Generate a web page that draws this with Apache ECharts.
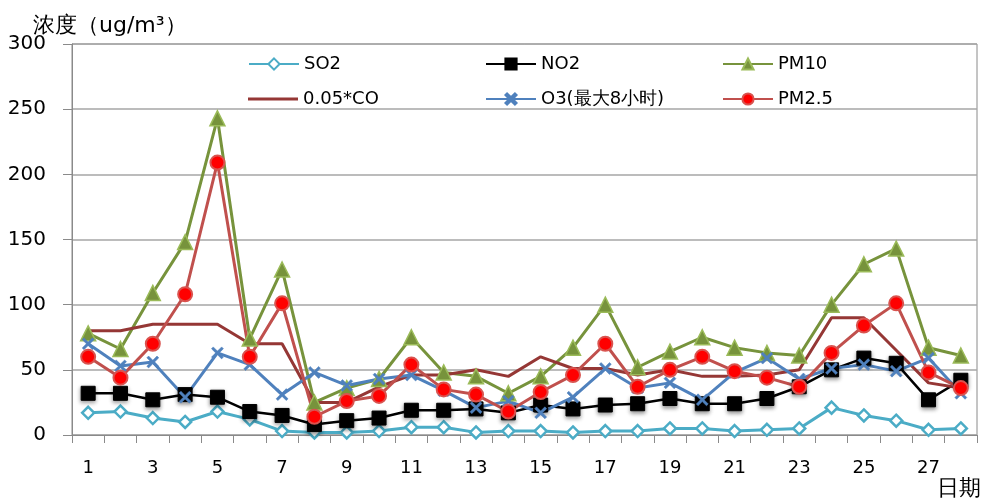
<!DOCTYPE html>
<html>
<head>
<meta charset="utf-8">
<script src="https://cdn.jsdelivr.net/npm/echarts@6/dist/echarts.min.js"></script>
<style>
html,body{margin:0;padding:0;background:#fff;}
#c{width:984px;height:502px;}
</style>
</head>
<body>
<div id="c"></div>
<script>
var days = ['1','2','3','4','5','6','7','8','9','10','11','12','13','14','15','16','17','18','19','20','21','22','23','24','25','26','27','28'];
var so2  = [17,18,13,10,18,12,3,2,2,3,6,6,2,3,3,2,3,3,5,5,3,4,5,21,15,11,4,5];
var no2  = [32,32,27,31,29,18,15,8,11,13,19,19,20,17,23,20,23,24,28,24,24,28,37,50,59,55,27,42];
var pm10 = [78,66,109,148,243,74,127,25,36,43,75,48,45,32,45,67,100,52,64,75,67,63,61,100,131,143,67,61];
var co   = [80,80,85,85,85,70,70,25,25,37,46,46,50,45,60,51,51,46,50,45,45,46,50,90,90,65,40,36];
var o3   = [70,53,56,29,63,54,31,48,38,43,46,34,21,26,17,29,51,36,40,27,48,59,43,51,54,49,59,32];
var pm25 = [60,44,70,108,209,60,101,14,26,30,54,35,31,18,33,46,70,37,50,60,49,44,37,63,84,101,48,36];
var seriesNames = ['SO2','NO2','PM10','0.05*CO','O3(最大8小时)','PM2.5'];
var yTitle = '浓度（ug/m³）';
var xTitle = '日期';

var font = 'DejaVu Sans';
var xMark = 'path://M1.5,0L5,3.5L8.5,0L10,1.5L6.5,5L10,8.5L8.5,10L5,6.5L1.5,10L0,8.5L3.5,5L0,1.5Z';

function mkLegend(item, left, top, h) {
  return {
    data: [item], left: left, top: top, itemWidth: 50, itemHeight: h || 14, itemGap: 0,
    selectedMode: false,
    textStyle: {fontFamily: font, fontSize: 18, color: '#000'}
  };
}

var chart = echarts.init(document.getElementById('c'), null, {renderer: 'canvas'});
chart.setOption({
  animation: false,
  backgroundColor: '#fff',
  title: {
    text: yTitle, left: 28, top: 10,
    textStyle: {fontFamily: font, fontSize: 22, fontWeight: 'normal', color: '#000'}
  },
  legend: [
    mkLegend(seriesNames[0], 243, 50),
    mkLegend(seriesNames[1], 480, 50),
    mkLegend(seriesNames[2], 717, 50),
    mkLegend({name: seriesNames[3], icon: 'rect', itemStyle: {color: '#953735'}}, 243, 85, 3),
    mkLegend(seriesNames[4], 480, 85),
    mkLegend(seriesNames[5], 717, 85)
  ],
  grid: {left: 72, right: 6, top: 44, bottom: 67, show: true, borderColor: '#8a8a8a', borderWidth: 1},
  xAxis: {
    type: 'category', data: days, boundaryGap: true,
    name: xTitle, nameLocation: 'end', nameGap: 4,
    nameTextStyle: {fontFamily: font, fontSize: 22, color: '#000', align: 'right', verticalAlign: 'top', padding: [43, 0, 0, 0]},
    axisLine: {lineStyle: {color: '#8a8a8a', width: 1}},
    axisTick: {show: true, interval: 0, length: 8, lineStyle: {color: '#8a8a8a'}},
    axisLabel: {interval: 1, margin: 24, fontFamily: font, fontSize: 18, color: '#000'},
    splitLine: {show: false}
  },
  yAxis: {
    type: 'value', min: 0, max: 300, interval: 50,
    axisLine: {show: true, lineStyle: {color: '#8a8a8a', width: 1}},
    axisTick: {show: true, length: 9, lineStyle: {color: '#8a8a8a'}},
    axisLabel: {margin: 26, fontFamily: font, fontSize: 20, color: '#000'},
    splitLine: {show: true, lineStyle: {color: '#a6a6a6', width: 1.5}}
  },
  series: [
    {name: seriesNames[0], type: 'line', data: so2, symbol: 'diamond', symbolSize: 12,
     lineStyle: {color: '#4bacc6', width: 3},
     itemStyle: {color: '#ffffff', borderColor: '#4bacc6', borderWidth: 2.5}},
    {name: seriesNames[1], type: 'line', data: no2, symbol: 'rect', symbolSize: 14,
     lineStyle: {color: '#000', width: 2.5},
     itemStyle: {color: '#000', borderColor: '#000', borderWidth: 1, shadowBlur: 4, shadowColor: 'rgba(0,0,0,0.4)', shadowOffsetY: 2}},
    {name: seriesNames[2], type: 'line', data: pm10, symbol: 'triangle', symbolSize: 15,
     lineStyle: {color: '#77933c', width: 3},
     itemStyle: {color: '#77933c', borderColor: '#9bbb59', borderWidth: 1.5}},
    {name: seriesNames[3], type: 'line', data: co, symbol: 'none', showSymbol: false,
     lineStyle: {color: '#953735', width: 3},
     itemStyle: {color: '#953735'}},
    {name: seriesNames[4], type: 'line', data: o3, symbol: xMark, symbolSize: 12,
     lineStyle: {color: '#4f81bd', width: 3},
     itemStyle: {color: '#4f81bd', borderColor: '#4f81bd', borderWidth: 0.5}},
    {name: seriesNames[5], type: 'line', data: pm25, symbol: 'circle', symbolSize: 14,
     lineStyle: {color: '#c0504d', width: 3},
     itemStyle: {color: '#ff0000', borderColor: '#d9534f', borderWidth: 2}}
  ]
});
</script>
</body>
</html>
